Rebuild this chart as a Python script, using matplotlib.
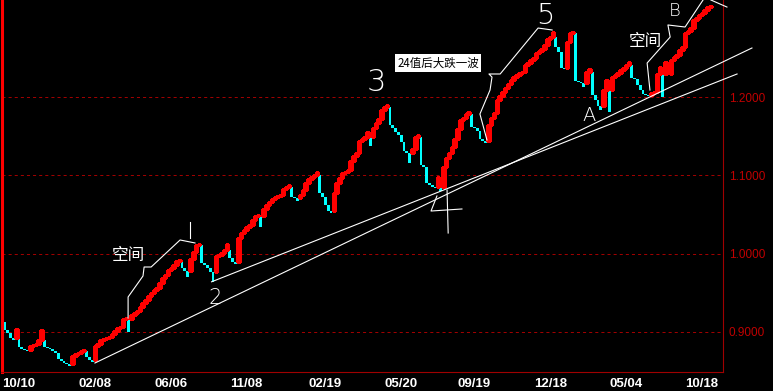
import matplotlib
matplotlib.use("Agg")
import matplotlib.pyplot as plt
import numpy as np

plt.rcParams["lines.scale_dashes"] = False

CJK = ["Noto Sans CJK SC", "DejaVu Sans"]

# three-line-break closes (price units)
first_open = 0.913
leg_start = [0.902, 0.899, 0.892, 0.890, 0.904, 0.881, 0.878, 0.877, 0.876, 0.882,
             0.883, 0.885, 0.890, 0.902, 0.881, 0.879, 0.878, 0.876, 0.873, 0.866,
             0.863, 0.860, 0.859, 0.857, 0.869, 0.872, 0.873, 0.876, 0.877, 0.868,
             0.864, 0.862, 0.882, 0.885, 0.890, 0.891, 0.892, 0.894, 0.897, 0.901,
             0.905, 0.906, 0.916, 0.918]
leg_wave12 = [0.900, 0.922, 0.924, 0.927, 0.932, 0.937, 0.941, 0.946, 0.950, 0.954,
              0.956, 0.962, 0.969, 0.973, 0.979, 0.982, 0.985, 0.991, 0.992, 0.982,
              0.978, 0.970, 0.993, 1.002, 1.011, 1.012, 0.988, 0.985, 0.982, 0.976,
              0.964, 0.997, 0.998, 1.001, 1.005, 1.012, 0.994, 0.989, 0.987, 1.020,
              1.026, 1.030]
leg_wave3 = [1.034, 1.037, 1.043, 1.048, 1.049, 1.034, 1.057, 1.062, 1.066, 1.070,
             1.072, 1.074, 1.075, 1.083, 1.085, 1.088, 1.072, 1.071, 1.067, 1.075,
             1.081, 1.090, 1.095, 1.098, 1.100, 1.104, 1.077, 1.072, 1.062, 1.054,
             1.052, 1.077, 1.090, 1.097, 1.103, 1.104, 1.107, 1.118, 1.125, 1.128,
             1.144, 1.146, 1.149, 1.155]
leg_wave4 = [1.137, 1.160, 1.167, 1.172, 1.183, 1.187, 1.190, 1.164, 1.160, 1.155,
             1.151, 1.143, 1.131, 1.128, 1.116, 1.134, 1.149, 1.151, 1.113, 1.111,
             1.090, 1.088, 1.085, 1.084, 1.098, 1.080, 1.111, 1.122, 1.128, 1.136,
             1.146, 1.159, 1.171, 1.173, 1.178, 1.181, 1.162, 1.160, 1.157, 1.146,
             1.144, 1.141]
leg_wave5ab = [1.164, 1.173, 1.180, 1.196, 1.201, 1.206, 1.212, 1.217, 1.222, 1.226,
               1.228, 1.231, 1.232, 1.241, 1.243, 1.247, 1.250, 1.256, 1.259, 1.261,
               1.266, 1.274, 1.277, 1.283, 1.264, 1.257, 1.237, 1.236, 1.270, 1.282,
               1.283, 1.220, 1.219, 1.218, 1.213, 1.232, 1.236, 1.203, 1.196, 1.188,
               1.183, 1.209, 1.222, 1.181, 1.226, 1.228, 1.231, 1.234, 1.237, 1.241,
               1.245, 1.224, 1.223, 1.215, 1.209, 1.204, 1.203, 1.201, 1.205, 1.206,
               1.229, 1.238, 1.200, 1.245, 1.228, 1.247, 1.251, 1.254, 1.260, 1.264,
               1.282, 1.284, 1.288, 1.298, 1.301, 1.305, 1.307, 1.311, 1.315, 1.316]

date_labels = ["10/10", "02/08", "06/06", "11/08", "02/19",
               "05/20", "09/19", "12/18", "05/04", "10/18"]
date_pos = [5, 32, 59, 86, 114, 141, 167, 194, 221, 248]
price_ticks = [0.9, 1.0, 1.1, 1.2]

# hand-drawn marks (brick index, price)
trend_low_x, trend_low_y = [32.0, 265.8], [0.8603, 1.2626]
trend_high_x, trend_high_y = [73.5, 260.5], [0.964, 1.2294]
gap1_x = [43.8, 43.8, 49.1, 49.5, 52.0, 62.3, 67.6]
gap1_y = [0.9178, 0.9446, 0.9714, 0.9829, 0.9829, 1.0174, 1.0136]
one_x, one_y = [65.8, 65.8], [1.0404, 1.0200]
five_x = [171.5, 169.0, 172.6, 173.3, 172.2, 176.2, 189.7, 194.7]
five_y = [1.1451, 1.1783, 1.2089, 1.2255, 1.2294, 1.2294, 1.2881, 1.2856]
b_x = [229.5, 228.5, 236.7, 235.9, 242.0, 248.4]
b_y = [1.2089, 1.2434, 1.2766, 1.2920, 1.2894, 1.3239]
b_tail_x, b_tail_y = [251.2, 256.9], [1.3239, 1.3149]
four_a_x, four_a_y = [153.7, 151.6, 162.6], [1.0736, 1.0544, 1.0570]
four_b_x, four_b_y = [157.3, 157.7], [1.0812, 1.0263]

closes = leg_start + leg_wave12 + leg_wave3 + leg_wave4 + leg_wave5ab

# line-break bricks: continuation starts at previous close, reversal at previous open
opens, ups = [], []
for i, c in enumerate(closes):
    if i == 0:
        o = first_open
    else:
        going_up = c > closes[i - 1]
        o = closes[i - 1] if going_up == ups[-1] else opens[-1]
    opens.append(o)
    ups.append(c > o)

x = np.arange(len(closes))
o = np.array(opens)
c = np.array(closes)
up = np.array(ups)

fig = plt.figure(figsize=(7.73, 3.91), dpi=100, facecolor="black")
ax = fig.add_axes([1.5 / 773, 19 / 391, 721.5 / 773, 372 / 391])
ax.set_facecolor("black")
ax.set_xlim(-1.25, 255.5)
ax.set_ylim(0.8488, 1.3239)

ax.grid(axis="y", color="#a00000", linestyle=(0, (2.2, 2.2)), linewidth=0.72)
ax.set_axisbelow(True)

ax.bar(x[~up], c[~up] - o[~up], bottom=o[~up], width=1.0,
       color="#00ffff", linewidth=0, antialiased=False, zorder=2)
ax.bar(x[up], c[up] - o[up], bottom=o[up], width=0.9,
       facecolor="none", edgecolor="#ff0000", linewidth=0.8,
       antialiased=False, zorder=3)

for px, py in [(trend_low_x, trend_low_y), (trend_high_x, trend_high_y),
               (gap1_x, gap1_y), (one_x, one_y), (five_x, five_y),
               (b_x, b_y), (b_tail_x, b_tail_y),
               (four_a_x, four_a_y), (four_b_x, four_b_y)]:
    ax.plot(px, py, color="white", linewidth=0.8, clip_on=False, zorder=4)

hand = dict(color="white", ha="center", va="center", zorder=5,
            fontweight="light")
ax.text(43.8, 0.9982, "空间", family=CJK, fontsize=12, **hand)
ax.text(227.8, 1.2703, "空间", family=CJK, fontsize=12, **hand)
ax.text(74.7, 0.9433, "2", fontsize=15, **hand)
ax.text(132.0, 1.2179, "3", fontsize=22, **hand)
ax.text(192.2, 1.3034, "5", fontsize=21, **hand)
ax.text(207.8, 1.1770, "A", fontsize=14, **hand)
ax.text(238.4, 1.3098, "B", fontsize=13, **hand)

ax.text(154.1, 1.2434, "24值后大跌一波", family=CJK, fontsize=8.3,
        color="black", ha="center", va="center", zorder=6,
        bbox=dict(boxstyle="square,pad=0.2", fc="white", ec="none"))

ax.spines["top"].set_visible(False)
ax.spines["left"].set_color("#ff0000")
ax.spines["left"].set_linewidth(2.2)
ax.spines["bottom"].set_color("#a00000")
ax.spines["bottom"].set_linewidth(0.8)
ax.spines["right"].set_color("#a00000")
ax.spines["right"].set_linewidth(0.8)

ax.set_xticks(date_pos, date_labels)
ax.tick_params(axis="x", length=0, pad=4, colors="white", labelsize=9.5)
for lab in ax.get_xticklabels():
    lab.set_fontfamily("Liberation Sans")
    lab.set_fontweight("bold")

ax.yaxis.tick_right()
ax.set_yticks(price_ticks, [f"{v:.4f}" for v in price_ticks])
ax.tick_params(axis="y", length=0, pad=4, labelcolor="#c00000", labelsize=8.5)
for lab in ax.get_yticklabels():
    lab.set_fontfamily("Liberation Sans")

fig.savefig("out.png", dpi=100, facecolor="black")
